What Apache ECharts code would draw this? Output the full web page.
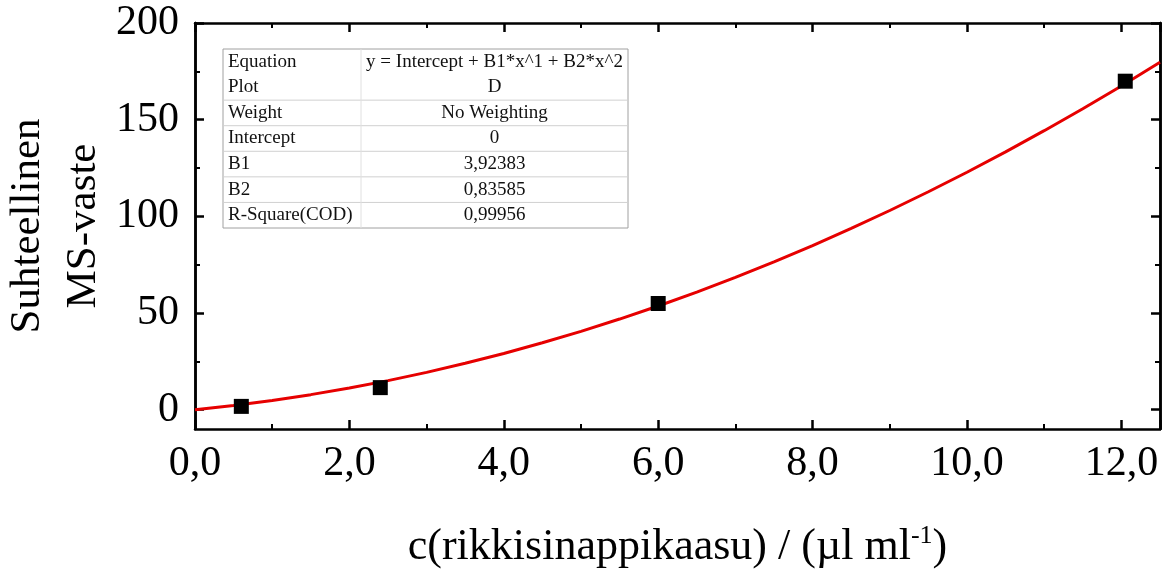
<!DOCTYPE html>
<html><head><meta charset="utf-8">
<script src="https://cdn.jsdelivr.net/npm/echarts@6/dist/echarts.min.js"></script>
<style>html,body{margin:0;padding:0;background:#fff}#c{width:1166px;height:569px}</style>
</head><body><div id="c"></div>
<script>
// measured points
const pointX = [0.6, 2.4, 6.0, 12.05];
const pointY = [1.7, 11.4, 54.9, 169.9];
// fitted curve
const fitX = [0,0.5,1,1.5,2,2.5,3,3.5,4,4.5,5,5.5,6,6.5,7,7.5,8,8.5,9,9.5,10,10.5,11,11.5,12,12.5];
const fitY = [0,2.17,4.76,7.77,11.19,15.03,19.29,23.97,29.07,34.58,40.52,46.87,53.63,60.82,68.42,76.45,84.89,93.74,103.02,112.71,122.82,133.35,144.30,155.67,167.44,179.65];
// tick values
const yMajorTicks = [0, 50, 100, 150, 200];
const yMinorTicks = [25, 75, 125, 175];
// fit report table
const tableLabels = ['Equation','Plot','Weight','Intercept','B1','B2','R-Square(COD)'];
const tableValues = ['y = Intercept + B1*x^1 + B2*x^2','D','No Weighting','0','3,92383','0,83585','0,99956'];
const xTitle = 'c(rikkisinappikaasu) / (µl ml';
const yTitle = ['Suhteellinen','MS-vaste'];

const FONT = 'Liberation Serif';
const chart = echarts.init(document.getElementById('c'));
const fmt = v => v.toFixed(1).replace('.', ',');

const T = {x: 223, y: 49, w: 405, h: 179, col: 138};
const rowH = T.h / tableLabels.length;
const tableChildren = [{type:'rect', shape:{x:0,y:0,width:T.w,height:T.h}, style:{fill:'#fff', stroke:'#a0a0a0', lineWidth:1}}];
for (let i = 2; i < tableLabels.length; i++) {
  tableChildren.push({type:'line', shape:{x1:0,y1:i*rowH,x2:T.w,y2:i*rowH}, style:{stroke:'#d0d0d0', lineWidth:1}});
}
tableChildren.push({type:'line', shape:{x1:T.col,y1:0,x2:T.col,y2:T.h}, style:{stroke:'#e0e0e0', lineWidth:1}});
tableLabels.forEach((t, i) => {
  tableChildren.push({type:'text', x:5, y:(i+0.5)*rowH, style:{text:t, fill:'#111', font:'19px "'+FONT+'"', verticalAlign:'middle', align:'left'}});
  tableChildren.push({type:'text', x:(T.col+T.w)/2, y:(i+0.5)*rowH, style:{text:tableValues[i], fill:'#111', font:'19px "'+FONT+'"', verticalAlign:'middle', align:'center'}});
});

const axisLine = {show:true, onZero:false, lineStyle:{color:'#000', width:2.5}};
const tick = {show:true, inside:true, length:9, lineStyle:{color:'#000', width:2.5}};
const minor = {show:true, splitNumber:2, length:5, lineStyle:{color:'#000', width:2}};
const yBase = {type:'value', min:-10, max:200, splitLine:{show:false}, offset:0};
const minorTickY = {show:true, inside:true, length:5, customValues:yMinorTicks, lineStyle:{color:'#000', width:2}};

chart.setOption({
  animation:false,
  backgroundColor:'#fff',
  grid:{left:195, right:6, top:23, bottom:140, containLabel:false, outerBoundsMode:'none'},
  xAxis:[{
    type:'value', min:0, max:12.5, interval:2,
    axisLine, axisTick:tick, minorTick:minor, splitLine:{show:false},
    axisLabel:{formatter:fmt, fontFamily:FONT, fontSize:42, color:'#000', margin:14, showMaxLabel:false},
    name: '{n|'+xTitle+'}{s|-1}{n|)}', nameLocation:'middle', nameGap:94, nameMoveOverlap:false,
    nameTextStyle:{rich:{n:{fontFamily:FONT, fontSize:44, color:'#000'}, s:{fontFamily:FONT, fontSize:26, color:'#000', verticalAlign:'top', padding:[0,0,23,0]}}}
  },{
    type:'value', position:'top', min:0, max:12.5, interval:2,
    axisLine, axisTick:tick, minorTick:minor, splitLine:{show:false}, axisLabel:{show:false}
  }],
  yAxis:[Object.assign({}, yBase, {
    position:'left',
    axisLine, axisTick:Object.assign({}, tick, {customValues:yMajorTicks}),
    axisLabel:{customValues:yMajorTicks, fontFamily:FONT, fontSize:42, color:'#000', margin:16},
    name: yTitle.join('\n'), nameLocation:'middle', nameGap:83, nameRotate:90, nameMoveOverlap:false,
    nameTextStyle:{fontFamily:FONT, fontSize:43, color:'#000', lineHeight:56, align:'center'}
  }), Object.assign({}, yBase, {
    position:'right',
    axisLine, axisTick:Object.assign({}, tick, {customValues:yMajorTicks}), axisLabel:{show:false}
  }), Object.assign({}, yBase, {
    position:'left',
    axisLine, axisTick:minorTickY, axisLabel:{show:false}
  }), Object.assign({}, yBase, {
    position:'right',
    axisLine, axisTick:minorTickY, axisLabel:{show:false}
  })],
  series:[{
    type:'line', data: fitX.map((x,i)=>[x, fitY[i]]), showSymbol:false, symbol:'none',
    lineStyle:{color:'#e60000', width:3}, z:2
  },{
    type:'scatter', data: pointX.map((x,i)=>[x, pointY[i]]), symbol:'rect', symbolSize:15,
    itemStyle:{color:'#000', opacity:1}, z:3
  }],
  graphic:[{type:'group', x:T.x, y:T.y, children:tableChildren}]
});
</script></body></html>
